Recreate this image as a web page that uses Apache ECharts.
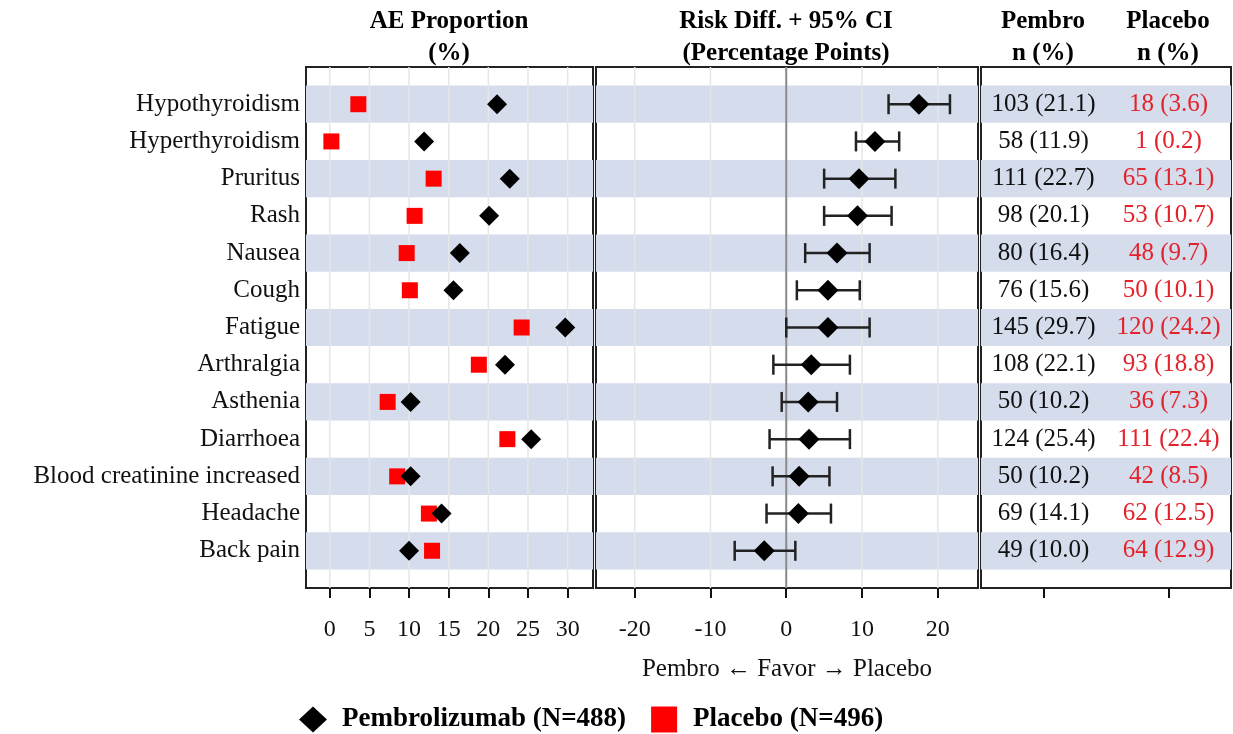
<!DOCTYPE html>
<html><head><meta charset="utf-8">
<script src="https://cdn.jsdelivr.net/npm/echarts@6/dist/echarts.min.js"></script>
<style>html,body{margin:0;padding:0;background:#fff}#c{width:1233px;height:734px}</style>
</head><body><div id="c"></div>
<script>
const categories = ['Hypothyroidism','Hyperthyroidism','Pruritus','Rash','Nausea','Cough','Fatigue','Arthralgia','Asthenia','Diarrhoea','Blood creatinine increased','Headache','Back pain'];
const pembroN = [103,58,111,98,80,76,145,108,50,124,50,69,49];
const pembroPct = [21.1,11.9,22.7,20.1,16.4,15.6,29.7,22.1,10.2,25.4,10.2,14.1,10.0];
const placeboN = [18,1,65,53,48,50,120,93,36,111,42,62,64];
const placeboPct = [3.6,0.2,13.1,10.7,9.7,10.1,24.2,18.8,7.3,22.4,8.5,12.5,12.9];
const riskDiff = [17.5,11.7,9.6,9.4,6.7,5.5,5.5,3.3,2.9,3.0,1.7,1.6,-2.9];
const ciLow = [13.5,9.2,5.0,5.0,2.5,1.4,0.0,-1.7,-0.6,-2.2,-1.8,-2.6,-6.8];
const ciHigh = [21.6,14.9,14.4,13.9,11.0,9.7,11.0,8.4,6.7,8.4,5.7,5.9,1.2];
const propTicks = [0,5,10,15,20,25,30];
const diffTicks = [-20,-10,0,10,20];
const tableColumns = ['Pembro','Placebo'];
const pembroName = 'Pembrolizumab (N=488)';
const placeboName = 'Placebo (N=496)';

const FONT = '"Liberation Serif", "Times New Roman", serif';
const BAND = '#d5dcec';
const RED = '#ff0000';
const TXTRED = '#e3232c';
const INK = '#111';

const bandAreas = categories.map((c, i) => i).filter(i => i % 2 === 0)
  .map(i => [{ yAxis: i - 0.5 }, { yAxis: i + 0.5 }]);

function bandSeries(idx) {
  return {
    type: 'line', xAxisIndex: idx, yAxisIndex: idx, data: [], z: 1, silent: true,
    markArea: { silent: true, itemStyle: { color: BAND }, data: bandAreas }
  };
}
function vLineSeries(idx, ticks, color, width, z) {
  return {
    type: 'custom', xAxisIndex: idx, yAxisIndex: idx, z: z, silent: true,
    data: ticks.map(v => [v]),
    encode: { x: 0 },
    renderItem: (params, api) => {
      const v = api.value(0);
      const a = api.coord([v, -1]), b = api.coord([v, 13]);
      return { type: 'line', shape: { x1: a[0], y1: a[1], x2: b[0], y2: b[1] },
        style: { stroke: color, lineWidth: width } };
    }
  };
}
function yAxisDef(idx, showLabels) {
  return {
    type: 'value', gridIndex: idx, inverse: true, min: -1, max: 13, interval: 1,
    splitLine: { show: false }, axisLine: { show: false }, axisTick: { show: false },
    axisLabel: showLabels ? {
      show: true, margin: 6, fontFamily: FONT, fontSize: 25, color: INK,
      formatter: v => (v >= 0 && v < categories.length) ? categories[v] : ''
    } : { show: false }
  };
}
const axisLineStyle = { show: true, onZero: false, lineStyle: { color: '#222', width: 2 } };
const tickStyle = { show: true, inside: false, length: 10, lineStyle: { color: '#111', width: 2 } };
const labelStyle = { fontFamily: FONT, fontSize: 24, color: INK, margin: 30 };

function textSeries(col, nArr, pArr, color) {
  return {
    type: 'custom', xAxisIndex: 2, yAxisIndex: 2, z: 5, silent: true,
    data: categories.map((c, i) => [col, i]),
    renderItem: (params, api) => {
      const i = params.dataIndex;
      const p = api.coord([api.value(0), api.value(1)]);
      return {
        type: 'text', x: p[0], y: p[1],
        style: { text: nArr[i] + ' (' + pArr[i].toFixed(1) + ')', align: 'center', verticalAlign: 'middle',
          fontFamily: FONT, fontSize: 25, fill: color }
      };
    }
  };
}

const titleStyle = { fontFamily: FONT, fontWeight: 'bold', fontSize: 25, lineHeight: 32, color: '#000' };

const option = {
  animation: false,
  backgroundColor: '#fff',
  title: [
    { text: 'AE Proportion\n(%)', left: 449, top: 6, padding: 0, textAlign: 'center', textStyle: titleStyle },
    { text: 'Risk Diff. + 95% CI\n(Percentage Points)', left: 786, top: 6, padding: 0, textAlign: 'center', textStyle: titleStyle },
    { text: 'Pembro\nn (%)', left: 1043, top: 6, padding: 0, textAlign: 'center', textStyle: titleStyle },
    { text: 'Placebo\nn (%)', left: 1168, top: 6, padding: 0, textAlign: 'center', textStyle: titleStyle }
  ],
  legend: {
    left: 294, top: 701, itemWidth: 28, itemHeight: 26, itemGap: 25,
    data: [{ name: pembroName, icon: 'diamond' }, { name: placeboName, icon: 'path://M0,0L10,0L10,10L0,10Z' }],
    textStyle: { fontFamily: FONT, fontWeight: 'bold', fontSize: 27, color: '#000', padding: [0, 0, 0, 10] }
  },
  grid: [
    { left: 306, top: 67, width: 287, height: 521, show: true, borderColor: '#222', borderWidth: 2, backgroundColor: 'transparent' },
    { left: 596, top: 67, width: 382, height: 521, show: true, borderColor: '#222', borderWidth: 2, backgroundColor: 'transparent' },
    { left: 981, top: 67, width: 250, height: 521, show: true, borderColor: '#222', borderWidth: 2, backgroundColor: 'transparent' }
  ],
  xAxis: [
    { type: 'value', gridIndex: 0, min: -3, max: 33.2, splitLine: { show: false }, axisLine: axisLineStyle,
      axisTick: Object.assign({ customValues: propTicks }, tickStyle),
      axisLabel: Object.assign({ customValues: propTicks }, labelStyle) },
    { type: 'value', gridIndex: 1, min: -25.1, max: 25.3, splitLine: { show: false }, axisLine: axisLineStyle,
      axisTick: Object.assign({ customValues: diffTicks }, tickStyle),
      axisLabel: Object.assign({ customValues: diffTicks }, labelStyle),
      name: 'Pembro ← Favor → Placebo', nameLocation: 'middle', nameGap: 69,
      nameTextStyle: { fontFamily: FONT, fontSize: 25, color: INK } },
    { type: 'category', gridIndex: 2, data: tableColumns, boundaryGap: true, axisLine: axisLineStyle,
      axisTick: Object.assign({ alignWithLabel: true }, tickStyle), axisLabel: { show: false }, splitLine: { show: false } }
  ],
  yAxis: [yAxisDef(0, true), yAxisDef(1, false), yAxisDef(2, false)],
  series: [
    bandSeries(0),
    vLineSeries(0, propTicks, '#e6e6e6', 1.5, 2),
    { name: placeboName, type: 'scatter', xAxisIndex: 0, yAxisIndex: 0, z: 3, symbol: 'rect', symbolSize: 16,
      itemStyle: { color: RED, opacity: 1 }, data: placeboPct.map((v, i) => [v, i]) },
    { name: pembroName, type: 'scatter', xAxisIndex: 0, yAxisIndex: 0, z: 4, symbol: 'diamond', symbolSize: 20,
      itemStyle: { color: '#000', opacity: 1 }, data: pembroPct.map((v, i) => [v, i]) },
    bandSeries(1),
    vLineSeries(1, diffTicks, '#e6e6e6', 1.5, 2),
    vLineSeries(1, [0], '#8a8a8a', 2, 3),
    { name: 'Risk difference', type: 'custom', xAxisIndex: 1, yAxisIndex: 1, z: 4, silent: true,
      data: categories.map((c, i) => [i, ciLow[i], ciHigh[i]]),
      encode: { x: [1, 2], y: 0 },
      renderItem: (params, api) => {
        const row = api.value(0), lo = api.value(1), hi = api.value(2);
        const a = api.coord([lo, row]), b = api.coord([hi, row]);
        const h = 10;
        const st = { stroke: '#222', lineWidth: 2.5 };
        return { type: 'group', children: [
          { type: 'line', shape: { x1: a[0], y1: a[1], x2: b[0], y2: b[1] }, style: st },
          { type: 'line', shape: { x1: a[0], y1: a[1] - h, x2: a[0], y2: a[1] + h }, style: st },
          { type: 'line', shape: { x1: b[0], y1: b[1] - h, x2: b[0], y2: b[1] + h }, style: st }
        ] };
      } },
    { name: 'Risk difference point', type: 'scatter', xAxisIndex: 1, yAxisIndex: 1, z: 5, symbol: 'diamond', symbolSize: 21,
      itemStyle: { color: '#000', opacity: 1 }, data: riskDiff.map((v, i) => [v, i]) },
    bandSeries(2),
    textSeries(0, pembroN, pembroPct, INK),
    textSeries(1, placeboN, placeboPct, TXTRED)
  ]
};
const chart = echarts.init(document.getElementById('c'), null, { renderer: 'canvas' });
chart.setOption(option);
</script>
</body></html>
